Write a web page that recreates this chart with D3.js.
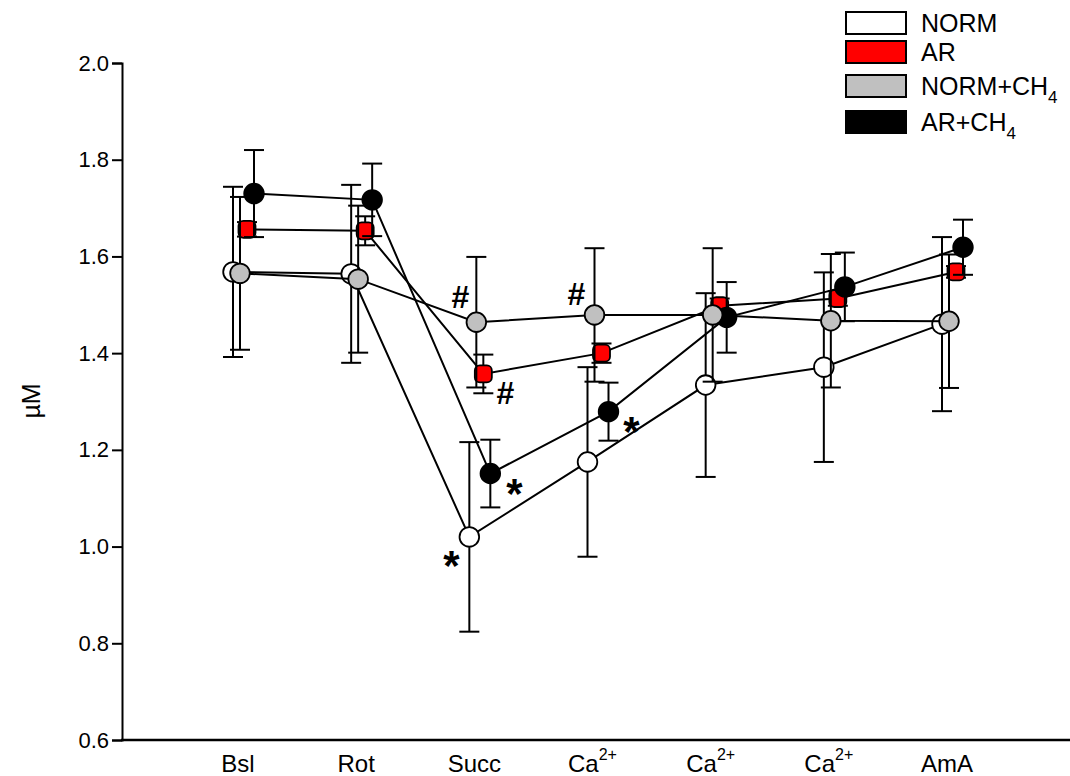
<!DOCTYPE html>
<html><head><meta charset="utf-8">
<script src="https://cdn.jsdelivr.net/npm/d3@7"></script>
<style>body{margin:0;background:#fff}svg{display:block}text{font-family:"Liberation Sans",Arial,sans-serif}</style>
</head><body>
<svg id="chart" width="1070" height="776"></svg>
<script>
const categories = ["Bsl","Rot","Succ","Ca","Ca","Ca","AmA"];
const catSup = ["","","","2+","2+","2+",""];
const yTicks = [0.6,0.8,1.0,1.2,1.4,1.6,1.8,2.0];

const normMean = [1.568,1.564,1.020,1.175,1.334,1.371,1.460];
const normSE   = [0.176,0.184,0.196,0.196,0.190,0.196,0.180];
const arMean   = [1.656,1.653,1.357,1.400,1.498,1.513,1.568];
const arSE     = [0.015,0.030,0.040,0.020,0.015,0.015,0.012];
const nchMean  = [1.565,1.553,1.464,1.479,1.479,1.467,1.466];
const nchSE    = [0.158,0.152,0.135,0.138,0.138,0.138,0.138];
const achMean  = [1.730,1.717,1.151,1.279,1.474,1.537,1.619];
const achSE    = [0.090,0.075,0.070,0.060,0.073,0.071,0.057];

const seriesNames = ["NORM","AR","NORM+CH","AR+CH"];
const seriesSub = ["","","4","4"];

const svg = d3.select("#chart");
const x = d3.scalePoint().domain(d3.range(categories.length)).range([233, 942]);
const y = d3.scaleLinear().domain([0.6, 2.0]).range([740, 63]);

const series = [
  {name:"NORM", mean:normMean, se:normSE, fill:"#ffffff", shape:"circle", off:0},
  {name:"AR", mean:arMean, se:arSE, fill:"#ff0000", shape:"square", off:14},
  {name:"AR+CH4", mean:achMean, se:achSE, fill:"#000000", shape:"circle", off:21},
  {name:"NORM+CH4", mean:nchMean, se:nchSE, fill:"#c0c0c0", shape:"circle", off:7}
];

// axes
const yAxis = d3.axisLeft(y).tickValues(yTicks).tickFormat(d3.format(".1f")).tickSize(10).tickPadding(3);
const gy = svg.append("g").attr("transform","translate(122,0)").call(yAxis);
gy.select(".domain").attr("stroke","#000").attr("stroke-width",2);
gy.selectAll(".tick line").attr("stroke","#000").attr("stroke-width",2);
gy.selectAll(".tick text").attr("font-size",22).attr("fill","#000").attr("font-family","Liberation Sans, Arial, sans-serif");

svg.append("line").attr("x1",121).attr("x2",1070).attr("y1",y(0.6)).attr("y2",y(0.6))
  .attr("stroke","#000").attr("stroke-width",2.5);

// x labels
const xl = svg.append("g");
categories.forEach((c,i)=>{
  const t = xl.append("text").attr("x", x(i)+5).attr("y",772)
    .attr("text-anchor","middle").attr("font-size",24).attr("fill","#000");
  t.append("tspan").text(c);
  if (catSup[i]) t.append("tspan").attr("dy",-12).attr("font-size",16).text(catSup[i]);
});

svg.append("text").attr("transform","translate(40,401) rotate(-90)")
  .attr("text-anchor","middle").attr("font-size",25).attr("fill","#000").text("µM");

// series
const line = d3.line().x(d=>d.x).y(d=>d.y);
series.forEach(s=>{
  const pts = s.mean.map((m,i)=>({x:x(i)+s.off, y:y(m), lo:y(m-s.se[i]), hi:y(m+s.se[i])}));
  const g = svg.append("g");
  g.append("path").attr("d", line(pts)).attr("fill","none").attr("stroke","#000").attr("stroke-width",2);
  pts.forEach(p=>{
    g.append("line").attr("x1",p.x).attr("x2",p.x).attr("y1",p.lo).attr("y2",p.hi).attr("stroke","#000").attr("stroke-width",2);
    [p.lo,p.hi].forEach(v=>g.append("line").attr("x1",p.x-10).attr("x2",p.x+10).attr("y1",v).attr("y2",v).attr("stroke","#000").attr("stroke-width",2));
  });
  pts.forEach(p=>{
    if (s.shape==="circle") g.append("circle").attr("cx",p.x).attr("cy",p.y).attr("r",9.8).attr("fill",s.fill).attr("stroke","#000").attr("stroke-width",1.8);
    else g.append("rect").attr("x",p.x-8.5).attr("y",p.y-8.5).attr("width",17).attr("height",17).attr("rx",5).attr("fill",s.fill).attr("stroke","#000").attr("stroke-width",1.8);
  });
});

// significance marks
const marks = [
  {t:"#", s:3, i:2, dx:-16, dy:-25},
  {t:"#", s:3, i:3, dx:-18, dy:-21},
  {t:"#", s:1, i:2, dx:22, dy:19},
  {t:"*", s:2, i:2, dx:24, dy:10},
  {t:"*", s:0, i:2, dx:-18, dy:19},
  {t:"*", s:2, i:3, dx:23, dy:10}
];
marks.forEach(m=>{
  const s = series[m.s];
  const fs = m.t==="#"?32:42;
  svg.append("text").attr("x", x(m.i)+s.off+m.dx).attr("y", y(s.mean[m.i])+m.dy)
    .attr("text-anchor","middle").attr("dominant-baseline","central")
    .attr("font-size", fs).attr("font-weight","bold").attr("fill","#000")
    .attr("dy", m.t==="*"?fs*0.225:0).text(m.t);
});

// legend
const legFill = ["#ffffff","#ff0000","#c0c0c0","#000000"];
const legTop = [12,41,75,111];
const leg = svg.append("g");
seriesNames.forEach((n,i)=>{
  leg.append("rect").attr("x",846).attr("y",legTop[i]).attr("width",60).attr("height",22)
    .attr("fill",legFill[i]).attr("stroke","#000").attr("stroke-width",2);
  const t = leg.append("text").attr("x",921).attr("y",legTop[i]+20).attr("font-size",25).attr("fill","#000");
  t.append("tspan").text(n);
  if (seriesSub[i]) t.append("tspan").attr("dy",8).attr("font-size",17).text(seriesSub[i]);
});
</script>
</body></html>
